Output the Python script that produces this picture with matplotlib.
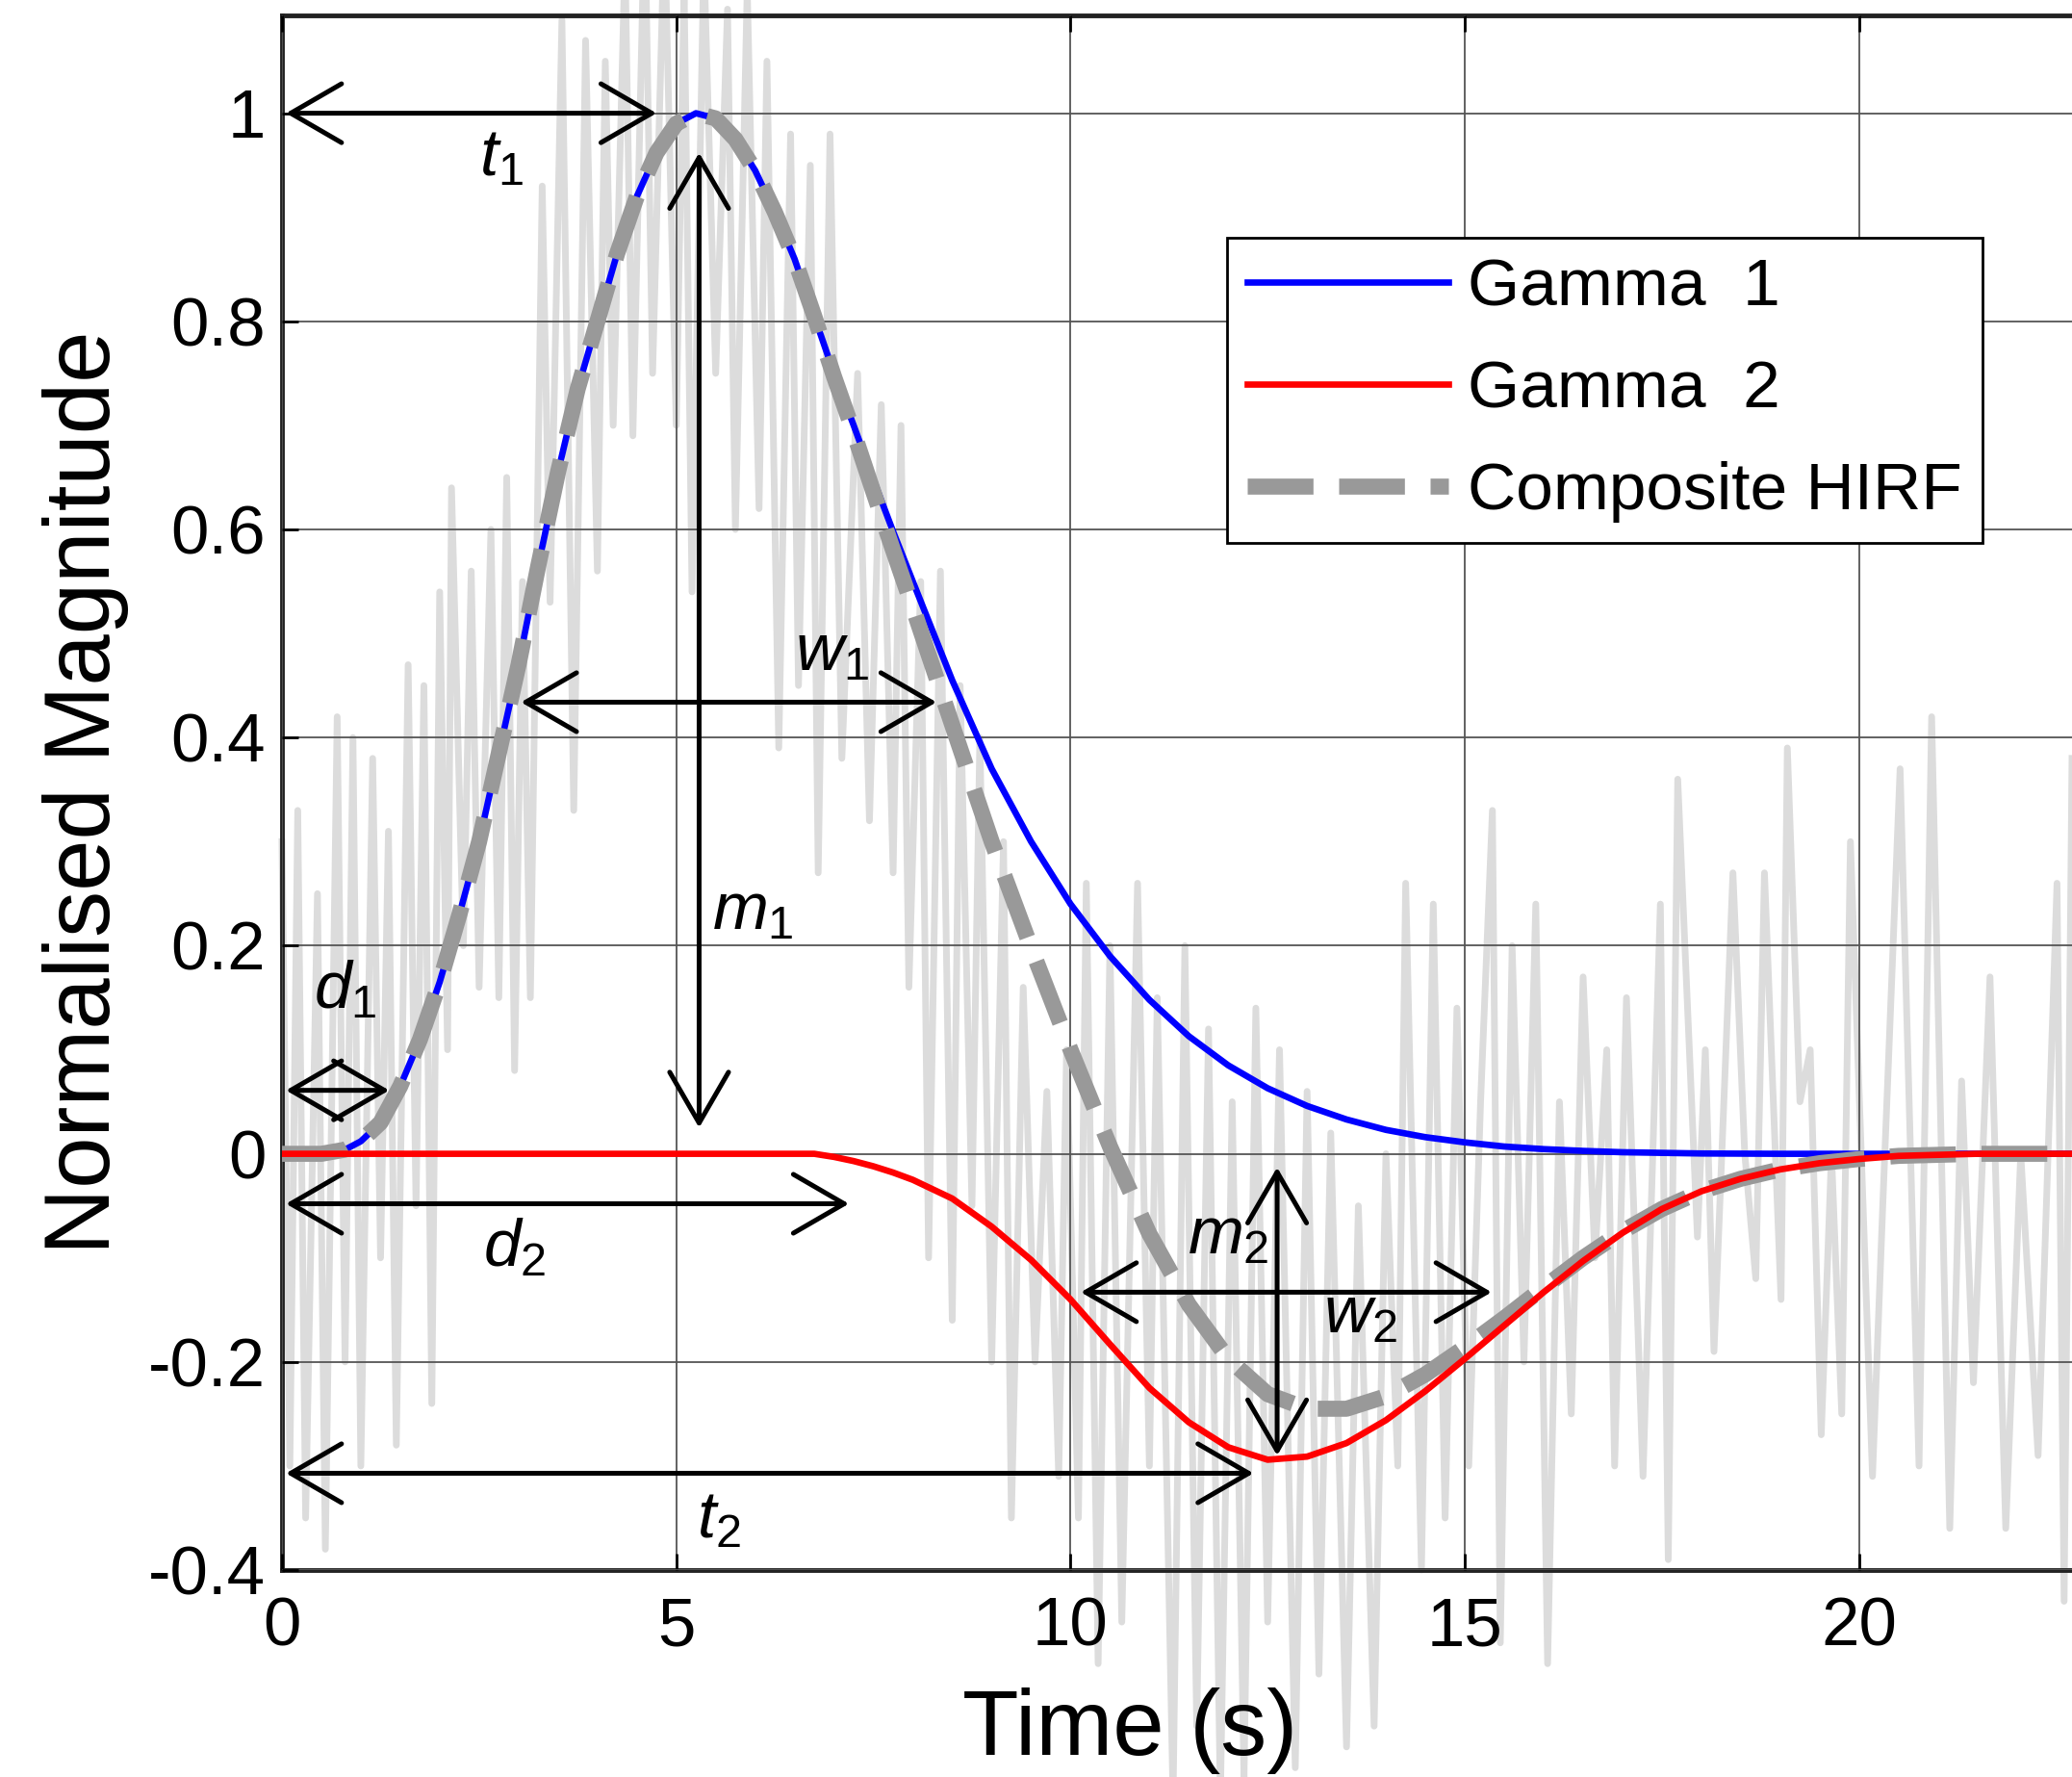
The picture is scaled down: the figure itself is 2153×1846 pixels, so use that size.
import numpy as np
import matplotlib
matplotlib.use('Agg')
import matplotlib.pyplot as plt

plt.rcParams['font.family'] = ['Liberation Sans', 'DejaVu Sans']
plt.rcParams['mathtext.fontset'] = 'custom'
plt.rcParams['mathtext.rm'] = 'Liberation Sans'
plt.rcParams['mathtext.it'] = 'Liberation Sans:italic'

# Gamma 1
t_g1 = [0, 0.5, 0.8, 1.0, 1.25, 1.5, 1.75, 2.0, 2.25, 2.5, 2.75, 3.0, 3.25, 3.5, 3.75,
        4.0, 4.25, 4.5, 4.75, 5.0, 5.25, 5.5, 5.75, 6.0, 6.25, 6.5, 6.75, 7.0, 7.25,
        7.5, 7.75, 8.0, 8.5, 9.0, 9.5, 10.0, 10.5, 11.0, 11.5, 12.0, 12.5, 13.0, 13.5,
        14.0, 14.5, 15.0, 15.5, 16.0, 16.5, 17.0, 18.0, 19.0, 22.7]
v_g1 = [0, 0, 0.004, 0.012, 0.03, 0.065, 0.11, 0.165, 0.23, 0.30, 0.385, 0.47, 0.565,
        0.655, 0.735, 0.80, 0.865, 0.92, 0.962, 0.99, 1.0, 0.995, 0.975, 0.945, 0.905,
        0.86, 0.805, 0.75, 0.70, 0.648, 0.598, 0.55, 0.455, 0.37, 0.30, 0.24, 0.19,
        0.148, 0.113, 0.085, 0.063, 0.046, 0.033, 0.023, 0.016, 0.011, 0.007, 0.0045,
        0.0028, 0.0015, 0.0003, 0, 0]

# Gamma 2
t_g2 = [0, 6.75, 7.0, 7.25, 7.5, 7.75, 8.0, 8.5, 9.0, 9.5, 10.0, 10.5, 11.0, 11.5,
        12.0, 12.5, 13.0, 13.5, 14.0, 14.5, 15.0, 15.5, 16.0, 16.5, 17.0, 17.5, 18.0,
        18.5, 19.0, 19.5, 20.0, 20.5, 21.0, 21.5, 22.7]
v_g2 = [0, 0, -0.003, -0.007, -0.012, -0.018, -0.025, -0.043, -0.07, -0.102, -0.14,
        -0.183, -0.225, -0.258, -0.282, -0.294, -0.291, -0.278, -0.256, -0.228, -0.197,
        -0.165, -0.133, -0.103, -0.076, -0.053, -0.036, -0.024, -0.015, -0.009, -0.005,
        -0.002, -0.001, 0, 0]

# Composite HIRF
t_hirf = [0, 0.5, 0.8, 1.0, 1.25, 1.5, 1.75, 2.0, 2.25, 2.5, 2.75, 3.0, 3.25, 3.5, 3.75,
          4.0, 4.25, 4.5, 4.75, 5.0, 5.25, 5.5, 5.75, 6.0, 6.25, 6.5, 6.75, 7.0, 7.25,
          7.5, 7.75, 8.0, 8.5, 9.0, 9.5, 10.0, 10.5, 11.0, 11.5, 12.0, 12.5, 13.0, 13.5,
          14.0, 14.5, 15.0, 15.5, 16.0, 16.5, 17.0, 17.5, 18.0, 18.5, 19.0, 19.5, 20.0,
          20.5, 21.0, 21.5, 22.7]
v_hirf = [0, 0, 0.004, 0.012, 0.03, 0.065, 0.11, 0.165, 0.23, 0.30, 0.385, 0.47, 0.565,
          0.655, 0.735, 0.80, 0.865, 0.92, 0.962, 0.99, 1.0, 0.995, 0.975, 0.945, 0.905,
          0.86, 0.805, 0.747, 0.693, 0.636, 0.58, 0.525, 0.412, 0.30, 0.198, 0.10, 0.007,
          -0.077, -0.145, -0.197, -0.231, -0.245, -0.245, -0.233, -0.212, -0.186, -0.158,
          -0.1285, -0.10, -0.0745, -0.053, -0.036, -0.024, -0.015, -0.009, -0.005,
          -0.002, -0.001, 0, 0]

# noisy measured signal in the background
noise_t = [0.0, 0.1, 0.2, 0.3, 0.45, 0.55, 0.7, 0.8, 0.9, 1.0,
           1.15, 1.25, 1.35, 1.45, 1.6, 1.7, 1.8, 1.9, 2.0, 2.1,
           2.15, 2.3, 2.4, 2.5, 2.65, 2.75, 2.85, 2.95, 3.05, 3.15,
           3.3, 3.4, 3.55, 3.7, 3.85, 4.0, 4.1, 4.2, 4.35, 4.45,
           4.6, 4.7, 4.85, 5.0, 5.1, 5.2, 5.35, 5.5, 5.65, 5.75,
           5.9, 6.05, 6.15, 6.3, 6.45, 6.55, 6.7, 6.8, 6.95, 7.1,
           7.3, 7.45, 7.6, 7.75, 7.85, 7.95, 8.1, 8.2, 8.35, 8.5,
           8.6, 8.75, 8.85, 9.0, 9.15, 9.25, 9.4, 9.55, 9.7, 9.85,
           9.95, 10.1, 10.2, 10.35, 10.5, 10.65, 10.85, 11.0, 11.1, 11.3,
           11.45, 11.6, 11.75, 11.9, 12.05, 12.2, 12.35, 12.5, 12.65, 12.85,
           13.0, 13.15, 13.3, 13.5, 13.65, 13.85, 14.0, 14.15, 14.25, 14.45,
           14.6, 14.75, 14.9, 15.05, 15.2, 15.35, 15.45, 15.6, 15.75, 15.9,
           16.05, 16.2, 16.35, 16.5, 16.65, 16.8, 16.9, 17.05, 17.26, 17.48,
           17.58, 17.7, 17.95, 18.05, 18.16, 18.4, 18.55, 18.69, 18.8, 19.01,
           19.09, 19.25, 19.38, 19.52, 19.65, 19.78, 19.89, 20.17, 20.3, 20.52,
           20.76, 20.92, 21.15, 21.3, 21.45, 21.66, 21.86, 22.05, 22.27, 22.51,
           22.6, 22.7]
noise_v = [0.30, -0.30, 0.33, -0.35, 0.25, -0.38, 0.42, -0.20, 0.40, -0.30,
           0.38, -0.10, 0.31, -0.28, 0.47, -0.05, 0.45, -0.24, 0.54, 0.10,
           0.64, 0.20, 0.56, 0.16, 0.60, 0.15, 0.65, 0.08, 0.55, 0.15,
           0.93, 0.53, 1.09, 0.33, 1.07, 0.56, 1.05, 0.70, 1.15, 0.69,
           1.20, 0.75, 1.18, 0.70, 1.12, 0.54, 1.15, 0.75, 1.10, 0.60,
           1.12, 0.62, 1.05, 0.39, 0.98, 0.45, 0.95, 0.27, 0.98, 0.38,
           0.75, 0.32, 0.72, 0.27, 0.70, 0.16, 0.55, -0.10, 0.56, -0.16,
           0.45, -0.05, 0.40, -0.20, 0.30, -0.35, 0.16, -0.20, 0.06, -0.31,
           0.10, -0.35, 0.26, -0.49, 0.20, -0.45, 0.26, -0.30, 0.15, -0.62,
           0.20, -0.55, 0.12, -0.62, 0.05, -0.60, 0.14, -0.45, 0.10, -0.59,
           0.06, -0.50, 0.02, -0.57, -0.05, -0.55, 0.00, -0.30, 0.26, -0.40,
           0.24, -0.35, 0.14, -0.30, 0.05, 0.33, -0.47, 0.20, -0.20, 0.24,
           -0.49, 0.05, -0.25, 0.17, -0.10, 0.10, -0.30, 0.15, -0.31, 0.24,
           -0.39, 0.36, -0.08, 0.10, -0.19, 0.27, 0.00, -0.12, 0.27, -0.14,
           0.39, 0.05, 0.10, -0.27, 0.00, -0.25, 0.30, -0.31, -0.05, 0.37,
           -0.30, 0.42, -0.36, 0.07, -0.22, 0.17, -0.36, 0.00, -0.29, 0.26,
           -0.43, 0.38]

x_ticks = [0, 5, 10, 15, 20]
y_ticks = [-0.4, -0.2, 0, 0.2, 0.4, 0.6, 0.8, 1]
y_ticklabels = ['-0.4', '-0.2', '0', '0.2', '0.4', '0.6', '0.8', '1']

# annotation arrows (start, end) and their labels
arrows = [
    ((0.05, 1.0), (4.75, 1.0)),          # t1
    ((5.29, 0.962), (5.29, 0.025)),      # m1
    ((3.03, 0.434), (8.3, 0.434)),       # w1
    ((0.05, 0.061), (1.36, 0.061)),      # d1
    ((0.05, -0.048), (7.19, -0.048)),    # d2
    ((0.05, -0.307), (12.32, -0.307)),   # t2
    ((12.62, -0.013), (12.62, -0.29)),   # m2
    ((10.13, -0.133), (15.34, -0.133)),  # w2
]
labels = [
    (r'$t_1$', 2.78, 0.957),
    (r'$m_1$', 5.97, 0.233),
    (r'$w_{\mathit{1}}$', 6.97, 0.481),
    (r'$d_1$', 0.80, 0.157),
    (r'$d_2$', 2.95, -0.091),
    (r'$t_2$', 5.54, -0.352),
    (r'$m_2$', 12.0, -0.079),
    (r'$w_2$', 13.67, -0.155),
]

W, H = 2153, 1846
fig = plt.figure(figsize=(W / 100, H / 100), dpi=100)
ax = fig.add_axes([293 / W, 1 - 1631 / H, 1860 / W, 1615 / H])

ax.plot(noise_t, noise_v, color='#dcdcdc', lw=5, clip_on=False, zorder=1)

ax.grid(True, color='#555555', lw=1.3)
ax.set_axisbelow(False)

l1, = ax.plot(t_g1, v_g1, color='#0000ff', lw=4.8, zorder=4)
l3, = ax.plot(t_hirf, v_hirf, color='#999999', lw=12, dashes=(4.1, 1.6),
              dash_capstyle='butt', zorder=5)
l2, = ax.plot(t_g2, v_g2, color='#ff0000', lw=4.8, zorder=6)

for (x0, y0), (x1, y1) in arrows:
    ax.annotate('', xy=(x1, y1), xytext=(x0, y0),
                arrowprops=dict(arrowstyle='<->,head_length=3.8,head_width=2.2',
                                mutation_scale=10, lw=3.6, color='black',
                                shrinkA=0, shrinkB=0), zorder=7)
for txt, x, y in labels:
    ax.text(x, y, txt, fontsize=50, ha='center', va='center', zorder=8)

ax.set_xlim(0, 22.7)
ax.set_ylim(-0.4, 1.094)
ax.set_xticks(x_ticks)
ax.set_xticklabels([str(v) for v in x_ticks])
ax.set_yticks(y_ticks)
ax.set_yticklabels(y_ticklabels)
ax.tick_params(direction='in', length=12, width=2, labelsize=51, top=True)
ax.tick_params(axis='x', pad=20)
ax.tick_params(axis='y', pad=12)

for side in ['left', 'top', 'bottom']:
    ax.spines[side].set_linewidth(3.5)
    ax.spines[side].set_color('#222222')
ax.spines['right'].set_visible(False)

ax.set_xlabel('Time (s)', fontsize=69)
ax.xaxis.set_label_coords(0.4737, -0.0755)
ax.set_ylabel('Normalised Magnitude', fontsize=69, va='center')
ax.yaxis.set_label_coords(-0.1095, 0.5)

leg = ax.legend([l1, l2, l3], ['Gamma  1', 'Gamma  2', 'Composite HIRF'],
                loc='upper right', bbox_to_anchor=(0.950, 0.857), borderaxespad=0,
                fontsize=50, handlelength=3.0, handletextpad=0.3, labelspacing=0.6,
                borderpad=0.3, fancybox=False, framealpha=1, edgecolor='black')
leg.get_frame().set_linewidth(2)
leg.set_zorder(10)

fig.savefig('out.png', dpi=100)
